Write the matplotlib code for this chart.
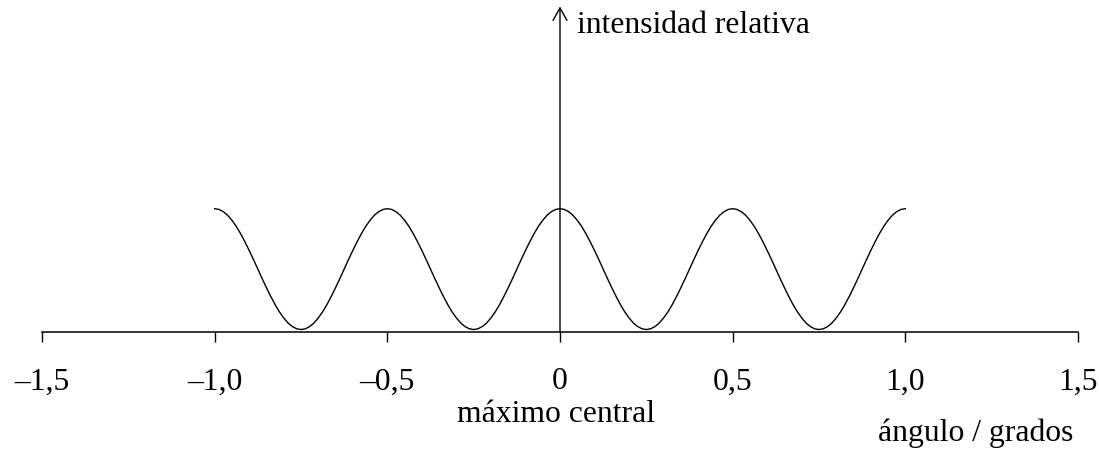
import matplotlib
matplotlib.use('Agg')
import matplotlib.pyplot as plt

plt.rcParams['font.family'] = ['Liberation Serif', 'DejaVu Serif']

# angulo en grados (paso 0,0125), intensidad relativa
angulo = [
    -1.0, -0.9875, -0.975, -0.9625, -0.95, -0.9375, -0.925, -0.9125, -0.9, -0.8875,
    -0.875, -0.8625, -0.85, -0.8375, -0.825, -0.8125, -0.8, -0.7875, -0.775, -0.7625,
    -0.75, -0.7375, -0.725, -0.7125, -0.7, -0.6875, -0.675, -0.6625, -0.65, -0.6375,
    -0.625, -0.6125, -0.6, -0.5875, -0.575, -0.5625, -0.55, -0.5375, -0.525, -0.5125,
    -0.5, -0.4875, -0.475, -0.4625, -0.45, -0.4375, -0.425, -0.4125, -0.4, -0.3875,
    -0.375, -0.3625, -0.35, -0.3375, -0.325, -0.3125, -0.3, -0.2875, -0.275, -0.2625,
    -0.25, -0.2375, -0.225, -0.2125, -0.2, -0.1875, -0.175, -0.1625, -0.15, -0.1375,
    -0.125, -0.1125, -0.1, -0.0875, -0.075, -0.0625, -0.05, -0.0375, -0.025, -0.0125,
    0.0, 0.0125, 0.025, 0.0375, 0.05, 0.0625, 0.075, 0.0875, 0.1, 0.1125,
    0.125, 0.1375, 0.15, 0.1625, 0.175, 0.1875, 0.2, 0.2125, 0.225, 0.2375,
    0.25, 0.2625, 0.275, 0.2875, 0.3, 0.3125, 0.325, 0.3375, 0.35, 0.3625,
    0.375, 0.3875, 0.4, 0.4125, 0.425, 0.4375, 0.45, 0.4625, 0.475, 0.4875,
    0.5, 0.5125, 0.525, 0.5375, 0.55, 0.5625, 0.575, 0.5875, 0.6, 0.6125,
    0.625, 0.6375, 0.65, 0.6625, 0.675, 0.6875, 0.7, 0.7125, 0.725, 0.7375,
    0.75, 0.7625, 0.775, 0.7875, 0.8, 0.8125, 0.825, 0.8375, 0.85, 0.8625,
    0.875, 0.8875, 0.9, 0.9125, 0.925, 0.9375, 0.95, 0.9625, 0.975, 0.9875,
    1.0]
intensidad = [
    1.000, 0.994, 0.976, 0.947, 0.906, 0.857, 0.798, 0.732, 0.661, 0.587,
    0.510, 0.433, 0.359, 0.288, 0.222, 0.163, 0.114, 0.073, 0.044, 0.026,
    0.020, 0.026, 0.044, 0.073, 0.114, 0.163, 0.222, 0.288, 0.359, 0.433,
    0.510, 0.587, 0.661, 0.732, 0.798, 0.857, 0.906, 0.947, 0.976, 0.994,
    1.000, 0.994, 0.976, 0.947, 0.906, 0.857, 0.798, 0.732, 0.661, 0.587,
    0.510, 0.433, 0.359, 0.288, 0.222, 0.163, 0.114, 0.073, 0.044, 0.026,
    0.020, 0.026, 0.044, 0.073, 0.114, 0.163, 0.222, 0.288, 0.359, 0.433,
    0.510, 0.587, 0.661, 0.732, 0.798, 0.857, 0.906, 0.947, 0.976, 0.994,
    1.000, 0.994, 0.976, 0.947, 0.906, 0.857, 0.798, 0.732, 0.661, 0.587,
    0.510, 0.433, 0.359, 0.288, 0.222, 0.163, 0.114, 0.073, 0.044, 0.026,
    0.020, 0.026, 0.044, 0.073, 0.114, 0.163, 0.222, 0.288, 0.359, 0.433,
    0.510, 0.587, 0.661, 0.732, 0.798, 0.857, 0.906, 0.947, 0.976, 0.994,
    1.000, 0.994, 0.976, 0.947, 0.906, 0.857, 0.798, 0.732, 0.661, 0.587,
    0.510, 0.433, 0.359, 0.288, 0.222, 0.163, 0.114, 0.073, 0.044, 0.026,
    0.020, 0.026, 0.044, 0.073, 0.114, 0.163, 0.222, 0.288, 0.359, 0.433,
    0.510, 0.587, 0.661, 0.732, 0.798, 0.857, 0.906, 0.947, 0.976, 0.994,
    1.000]

ticks = [-1.5, -1.0, -0.5, 0, 0.5, 1.0, 1.5]
tick_labels = ['–1,5', '–1,0', '–0,5', '0', '0,5', '1,0', '1,5']

fig = plt.figure(figsize=(10.99, 4.5), dpi=100)
ax = fig.add_axes([42/1099, (450-332)/450, (1078-42)/1099, 327/450])
ax.plot(angulo, intensidad, color='black', lw=1.0, solid_joinstyle='round')
ax.set_xlim(-1.5, 1.5)
ax.set_ylim(0, 2.652)

for s in ['top', 'right', 'left']:
    ax.spines[s].set_visible(False)
ax.spines['bottom'].set_linewidth(1.1)
ax.set_yticks([])
ax.set_xticks(ticks)
ax.set_xticklabels(tick_labels, fontsize=22.8)
ax.tick_params(axis='x', direction='out', length=7, width=1.0, pad=18.5)

# eje vertical con flecha
ax.annotate('', xy=(0, 2.64), xytext=(0, 0),
            arrowprops=dict(arrowstyle='->,head_length=0.45,head_width=0.25',
                            mutation_scale=20, lw=1.0, color='black',
                            shrinkA=0, shrinkB=0),
            annotation_clip=False)

ax.text(0.049, 2.425, 'intensidad relativa', fontsize=22.8, ha='left', va='baseline')
ax.text(-0.012, -0.727, 'máximo central', fontsize=22.8, ha='center', va='baseline',
        clip_on=False)
ax.text(1.205, -0.884, 'ángulo / grados', fontsize=22.8, ha='center', va='baseline',
        clip_on=False)

fig.savefig('out.png', dpi=100)
